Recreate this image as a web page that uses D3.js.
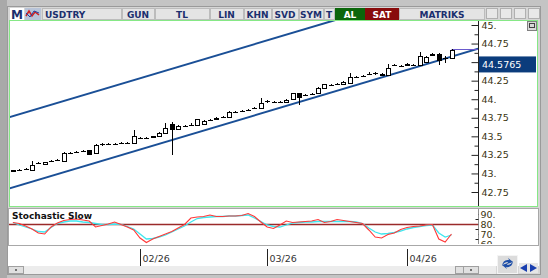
<!DOCTYPE html>
<html>
<head>
<meta charset="utf-8">
<script src="https://cdn.jsdelivr.net/npm/d3@7"></script>
<style>
  html, body { margin: 0; padding: 0; background: #c4c4c4; }
  svg { display: block; }
</style>
</head>
<body>
<script>
// Daily candles, Jan 5 2026 .. Apr 10 2026 (open, high, low, close)
var opens  = [43.035,43.045,43.055,43.05,43.14,43.13,43.17,43.18,43.17,43.28,43.29,43.30,43.31,43.27,43.39,43.40,43.40,43.41,43.41,43.41,
              43.48,43.48,43.49,43.50,43.54,43.67,43.60,43.64,43.65,43.65,43.66,43.72,43.74,43.76,43.76,43.83,43.84,43.85,43.88,43.88,
              43.97,43.96,43.96,43.96,44.00,44.08,44.06,44.07,44.08,44.15,44.19,44.205,44.21,44.22,44.30,44.31,44.34,44.35,44.34,44.33,
              44.46,44.45,44.46,44.465,44.46,44.50,44.59,44.61,44.55,44.56];
var highs  = [43.05,43.06,43.08,43.17,43.155,43.16,43.185,43.195,43.29,43.295,43.305,43.315,43.32,43.40,43.405,43.415,43.415,43.43,43.43,43.58,
              43.495,43.495,43.51,43.555,43.68,43.69,43.65,43.655,43.675,43.74,43.72,43.735,43.76,43.775,43.845,43.845,43.855,43.865,43.895,44.02,
              43.985,43.975,43.975,44.00,44.09,44.09,44.075,44.085,44.16,44.21,44.205,44.22,44.24,44.35,44.315,44.325,44.37,44.37,44.35,44.47,
              44.475,44.465,44.49,44.475,44.64,44.58,44.62,44.62,44.58,44.68];
var lows   = [43.025,43.035,43.05,43.04,43.125,43.125,43.16,43.17,43.165,43.265,43.275,43.285,43.25,43.265,43.375,43.385,43.39,43.40,43.40,43.40,
              43.465,43.465,43.485,43.495,43.535,43.25,43.595,43.625,43.645,43.645,43.655,43.705,43.735,43.745,43.755,43.815,43.825,43.835,43.87,43.875,
              43.955,43.945,43.945,43.955,43.995,43.92,44.045,44.055,44.075,44.145,44.175,44.19,44.205,44.215,44.285,44.295,44.335,44.33,44.325,44.325,
              44.455,44.44,44.455,44.45,44.455,44.495,44.585,44.46,44.49,44.555];
var closes = [43.04,43.045,43.06,43.11,43.14,43.15,43.17,43.18,43.27,43.28,43.29,43.30,43.26,43.38,43.39,43.40,43.40,43.41,43.41,43.50,
              43.48,43.48,43.50,43.54,43.61,43.60,43.64,43.64,43.65,43.73,43.71,43.72,43.75,43.76,43.83,43.83,43.84,43.85,43.88,43.95,
              43.97,43.96,43.96,43.99,44.08,44.03,44.06,44.07,44.15,44.20,44.19,44.205,44.23,44.30,44.30,44.31,44.34,44.35,44.33,44.42,
              44.46,44.45,44.48,44.46,44.58,44.57,44.61,44.53,44.56,44.66];
var lastPrice = 44.5765;

// Stochastic Slow (%K red, %D cyan)
var stochK = [81.5,80.5,78,75,71,70,77,81,83.5,84.5,85,84,83,77,78.5,80,82,79.5,77,74,
              66,61.5,65,67.5,70,72.5,76,79.5,86,87,87.5,89,87.5,87.5,88,88,88.5,90.5,87.5,82,
              77,75.5,79,83,81.5,82,82.5,83,84.5,81.5,82.5,84.5,83.5,82.5,81.5,80.5,74,67,66,69.5,
              71,74.5,76.5,77.5,78,79,79.5,65,62,70];
var stochD = [81.5,79,77,75,72.5,72,76.5,80.5,82,83,83,82,81.5,80.5,79.5,79.5,80,79.5,77.5,75,
              70,65,65.5,67,69,72,75,78,82,85.5,86.5,87,87.5,87.5,88,88,88.5,89,86,82.5,
              79,77.5,77,79,81,81.5,82,82,82.5,82.5,82.5,82.5,82.5,82.5,82,80.5,76,72,70,70.5,
              71.5,73,75,76.5,77.5,78.5,79,71,67,69];
var stochLevel = 80;

// Regression channel: [candle index, price] ends of the lower line, plus width
var channelLow = [[-0.5, 42.80], [73.2, 44.68]];
var channelWidth = 0.96;

// Axis ticks
var priceTicks = [42.75, 43, 43.25, 43.5, 43.75, 44, 44.25, 44.5, 44.75, 45];
var priceMinor = [42.875, 43.125, 43.375, 43.625, 43.875, 44.125, 44.375, 44.625, 44.875];
var stochTicks = [60, 70, 80, 90];
var stochMinor = [65, 75, 85];
var monthIdx = [20, 40, 62];
var monthLabels = ["02/26", "03/26", "04/26"];

// Toolbar buttons
var toolLabels = ["USDTRY", "GUN", "TL", "LIN", "KHN", "SVD", "SYM", "T"];
var toolX = [42, 122, 155, 210, 244, 272, 299, 324];
var toolW = [79, 32, 54, 33, 27, 26, 24, 10];

var candles = opens.map(function (o, i) {
    return {i: i, o: o, h: highs[i], l: lows[i], c: closes[i]};
});

var W = 548, H = 278;
var fontFam = "'DejaVu Sans', Verdana, sans-serif";
var navy = "#1b2f6e";

var svg = d3.select("body").append("svg")
            .attr("width", W)
            .attr("height", H)
            .style("font-family", fontFam);

// Window frame
svg.append("rect").attr("width", W).attr("height", H).attr("fill", "#c4c4c4");
svg.append("rect").attr("x", 0).attr("y", 0).attr("width", 7).attr("height", H).attr("fill", "#a9a9a9");
svg.append("rect").attr("x", 7.5).attr("y", 6.5).attr("width", 533).attr("height", 268)
   .attr("fill", "#d6d6d6").attr("stroke", "#9a9a9a");

// Toolbar
var bar = svg.append("g");
bar.append("rect").attr("x", 10).attr("y", 8).attr("width", 14).attr("height", 13).attr("fill", "#ffffff");
bar.append("text").attr("x", 17).attr("y", 19).attr("text-anchor", "middle")
   .attr("font-size", 12).attr("font-weight", "bold").attr("fill", navy).text("M");
// small indicator icon
bar.append("rect").attr("x", 25).attr("y", 8).attr("width", 16).attr("height", 12).attr("fill", "#b8c4d8");
bar.append("path").attr("d", "M26,16 L29,11 L32,16 L35,12 L39,15")
   .attr("fill", "none").attr("stroke", "#d02020").attr("stroke-width", 1.5);
bar.append("path").attr("d", "M26,13 L30,17 L34,11 L39,13")
   .attr("fill", "none").attr("stroke", "#2040a0").attr("stroke-width", 1);

toolLabels.forEach(function (t, k) {
    bar.append("rect").attr("x", toolX[k] + 0.5).attr("y", 8.5).attr("width", toolW[k]).attr("height", 11)
       .attr("fill", "#e4e4e4").attr("stroke", "#bcbcbc");
    bar.append("text")
       .attr("x", k == 0 ? toolX[k] + 3 : toolX[k] + toolW[k] / 2)
       .attr("y", 17.5)
       .attr("text-anchor", k == 0 ? "start" : "middle")
       .attr("font-size", 9).attr("font-weight", "bold").attr("fill", navy)
       .text(t);
});
bar.append("rect").attr("x", 335).attr("y", 8).attr("width", 30).attr("height", 12).attr("fill", "#0b660b");
bar.append("text").attr("x", 350).attr("y", 17.5).attr("text-anchor", "middle")
   .attr("font-size", 9).attr("font-weight", "bold").attr("fill", "#ffffff").text("AL");
bar.append("rect").attr("x", 365).attr("y", 8).attr("width", 34).attr("height", 12).attr("fill", "#880b0b");
bar.append("text").attr("x", 382).attr("y", 17.5).attr("text-anchor", "middle")
   .attr("font-size", 9).attr("font-weight", "bold").attr("fill", "#ffffff").text("SAT");
bar.append("rect").attr("x", 399.5).attr("y", 8.5).attr("width", 85).attr("height", 11)
   .attr("fill", "#e4e4e4").attr("stroke", "#bcbcbc");
bar.append("text").attr("x", 442).attr("y", 17.5).attr("text-anchor", "middle")
   .attr("font-size", 9).attr("font-weight", "bold").attr("fill", navy).text("MATRIKS");
[486, 500, 514, 528].forEach(function (bx) {
    bar.append("rect").attr("x", bx + 0.5).attr("y", 8.5).attr("width", 11).attr("height", 10)
       .attr("fill", "#e8e8e8").attr("stroke", "#b0b0b0");
});

// Main price panel
var px0 = 9, px1 = 478, py0 = 21, py1 = 206;
svg.append("rect").attr("x", px0 + 0.5).attr("y", py0 - 0.5).attr("width", 528).attr("height", py1 - py0 + 1)
   .attr("fill", "#ffffff").attr("stroke", "#86e886");
svg.append("rect").attr("x", 527.5).attr("y", 21.5).attr("width", 9).attr("height", 9)
   .attr("fill", "#d8d8d8").attr("stroke", "#808080");
svg.append("rect").attr("x", 529.5).attr("y", 23.5).attr("width", 5).attr("height", 4)
   .attr("fill", "none").attr("stroke", "#404040");

var x = d3.scaleLinear().domain([0, 69]).range([12.9, 451.5]);
var y = d3.scaleLinear().domain([42.75, 45]).range([192, 25]);

svg.append("clipPath").attr("id", "clipMain")
   .append("rect").attr("x", px0 + 1).attr("y", py0).attr("width", px1 - px0 - 1).attr("height", py1 - py0);

var plot = svg.append("g").attr("clip-path", "url(#clipMain)");

// Channel lines
var chanLine = d3.line().x(function (d) { return x(d[0]); }).y(function (d) { return y(d[1]); });
plot.append("path").datum(channelLow).attr("d", chanLine)
    .attr("fill", "none").attr("stroke", "#1a4f96").attr("stroke-width", 2);
plot.append("path").datum(channelLow.map(function (d) { return [d[0], d[1] + channelWidth]; }))
    .attr("d", chanLine)
    .attr("fill", "none").attr("stroke", "#1a4f96").attr("stroke-width", 2);

// Last-high marker line to the axis
var last = candles[candles.length - 1];
plot.append("line")
    .attr("x1", x(last.i)).attr("x2", px1)
    .attr("y1", Math.round(y(last.h)) + 0.5).attr("y2", Math.round(y(last.h)) + 0.5)
    .attr("stroke", "#6a5acd").attr("stroke-width", 1);

// Candles
var cg = plot.selectAll("g.candle").data(candles).enter().append("g").attr("class", "candle");
cg.append("line")
  .attr("x1", function (d) { return Math.round(x(d.i)) + 0.5; })
  .attr("x2", function (d) { return Math.round(x(d.i)) + 0.5; })
  .attr("y1", function (d) { return Math.round(y(d.h)); })
  .attr("y2", function (d) { return Math.round(y(d.l)); })
  .attr("stroke", "#000");
cg.append("rect")
  .attr("x", function (d) { return Math.round(x(d.i)) - 1.5; })
  .attr("y", function (d) { return Math.round(y(Math.max(d.o, d.c))) + 0.5; })
  .attr("width", 4)
  .attr("height", function (d) { return Math.max(0.01, Math.round(y(Math.min(d.o, d.c))) - Math.round(y(Math.max(d.o, d.c)))); })
  .attr("fill", function (d) { return d.c >= d.o ? "#fff" : "#000"; })
  .attr("stroke", "#000");

// Price axis (44.5 label sits under the last-price box, so it is left out)
var yAxis = d3.axisRight(y).tickValues(priceTicks).tickSize(-7).tickPadding(3)
              .tickFormat(function (d) {
                  if (d == 44.5) return "";
                  return d % 1 == 0 ? d + "." : String(d);
              });
var ya = svg.append("g").attr("transform", "translate(" + (px1 + 0.5) + ",0)").call(yAxis);
ya.select(".domain").attr("d", "M0," + py0 + "V" + py1);
var yMinor = d3.axisRight(y).tickValues(priceMinor).tickSize(-4).tickFormat("");
var ym = svg.append("g").attr("transform", "translate(" + (px1 + 0.5) + ",0)").call(yMinor);
ym.select(".domain").remove();
[ya, ym].forEach(function (g) {
    g.selectAll("line").attr("stroke", "#222");
    g.selectAll("path").attr("stroke", "#222");
    g.selectAll("text").attr("font-family", fontFam).attr("font-size", 9.5).attr("fill", "#3a3410");
});

// Last price box
var ly = y(lastPrice);
svg.append("rect").attr("x", 479).attr("y", ly).attr("width", 57).attr("height", 16).attr("fill", "#0b3c7c");
svg.append("text").attr("x", 482).attr("y", ly + 11.5)
   .attr("font-size", 9.5).attr("fill", "#ffffff").text(lastPrice.toFixed(4));

// Stochastic panel
var sy0 = 209, sy1 = 245;
svg.append("rect").attr("x", 8.5).attr("y", sy0 - 0.5).attr("width", 530).attr("height", sy1 - sy0 + 1)
   .attr("fill", "#ffffff").attr("stroke", "#a8a8a8");
var ys = d3.scaleLinear().domain([60, 90]).range([244, 214]);

svg.append("clipPath").attr("id", "clipStoch")
   .append("rect").attr("x", 9).attr("y", sy0).attr("width", px1 - 9).attr("height", sy1 - sy0);
var sp = svg.append("g").attr("clip-path", "url(#clipStoch)");

sp.append("line").attr("x1", 9).attr("x2", px1)
  .attr("y1", Math.round(ys(stochLevel)) + 0.5).attr("y2", Math.round(ys(stochLevel)) + 0.5)
  .attr("stroke", "#9a2a2a").attr("stroke-width", 1.3);

var sLine = d3.line().x(function (d, i) { return x(i); }).y(function (d) { return ys(d); });
sp.append("path").datum(stochD).attr("d", sLine)
  .attr("fill", "none").attr("stroke", "#3fe6ee").attr("stroke-width", 1.3);
sp.append("path").datum(stochK).attr("d", sLine)
  .attr("fill", "none").attr("stroke", "#ff3838").attr("stroke-width", 1.1);

svg.append("text").attr("x", 12).attr("y", 219)
   .attr("font-size", 9).attr("font-weight", "bold").attr("fill", "#111").text("Stochastic Slow");

var sAxis = d3.axisRight(ys).tickValues(stochTicks).tickSize(-6).tickPadding(2)
              .tickFormat(function (d) { return d + "."; });
var sa = svg.append("g").attr("transform", "translate(" + (px1 + 0.5) + ",0)").call(sAxis);
sa.select(".domain").attr("d", "M0," + sy0 + "V" + sy1);
var sm = svg.append("g").attr("transform", "translate(" + (px1 + 0.5) + ",0)")
            .call(d3.axisRight(ys).tickValues(stochMinor).tickSize(-3).tickFormat(""));
sm.select(".domain").remove();
[sa, sm].forEach(function (g) {
    g.selectAll("line").attr("stroke", "#222");
    g.selectAll("path").attr("stroke", "#222");
    g.selectAll("text").attr("font-family", fontFam).attr("font-size", 9.5).attr("fill", "#3a3410");
});
// the 60 label is cut by the panel edge
svg.append("clipPath").attr("id", "clipStochAxis")
   .append("rect").attr("x", 0).attr("y", sy0).attr("width", W).attr("height", sy1 - sy0 - 1);
sa.attr("clip-path", "url(#clipStochAxis)");

// Date axis area
svg.append("rect").attr("x", 8).attr("y", 246).attr("width", 531).attr("height", 20).attr("fill", "#ffffff");
var dg = svg.append("g");
monthIdx.forEach(function (mi, k) {
    var mx = Math.round(x(mi)) + 0.5;
    dg.append("line").attr("x1", mx).attr("x2", mx).attr("y1", 249).attr("y2", 266).attr("stroke", "#222");
    dg.append("text").attr("x", mx + 2).attr("y", 262)
      .attr("font-size", 9.5).attr("fill", "#333").text(monthLabels[k]);
});

// Scrollbar
svg.append("rect").attr("x", 8).attr("y", 266).attr("width", 488).attr("height", 8).attr("fill", "#ececec");
svg.append("rect").attr("x", 8.5).attr("y", 266.5).attr("width", 15).attr("height", 7)
   .attr("fill", "#e0e0e0").attr("stroke", "#a0a0a0");
svg.append("rect").attr("x", 15).attr("y", 269.5).attr("width", 2).attr("height", 1).attr("fill", "#000");
svg.append("rect").attr("x", 455.5).attr("y", 266.5).attr("width", 8).attr("height", 7)
   .attr("fill", "#e0e0e0").attr("stroke", "#a0a0a0");
svg.append("rect").attr("x", 463.5).attr("y", 266.5).attr("width", 15).attr("height", 7)
   .attr("fill", "#e0e0e0").attr("stroke", "#a0a0a0");
svg.append("rect").attr("x", 470).attr("y", 269.5).attr("width", 2).attr("height", 1).attr("fill", "#000");

// Refresh and arrow buttons
svg.append("rect").attr("x", 497.5).attr("y", 255.5).attr("width", 20).attr("height", 18)
   .attr("fill", "#dcdcdc").attr("stroke", "#f4f4f4");
svg.append("path").attr("d", "M502,266 Q503,259 509,260 L508,258 L513,262 L507,264 L508,262 Q504,262 502,266 Z")
   .attr("fill", "#1f4fa8");
svg.append("path").attr("d", "M513,261 Q512,268 506,267 L507,269 L502,265 L508,263 L507,265 Q511,265 513,261 Z")
   .attr("fill", "#1f4fa8");
svg.append("rect").attr("x", 519).attr("y", 263).attr("width", 19).attr("height", 10).attr("fill", "#e6e6e6");
svg.append("path").attr("d", "M520,268 L527,264 L527,272 Z").attr("fill", "#1a3fb0");
svg.append("path").attr("d", "M537,268 L530,264 L530,272 Z").attr("fill", "#1a3fb0");
</script>
</body>
</html>
